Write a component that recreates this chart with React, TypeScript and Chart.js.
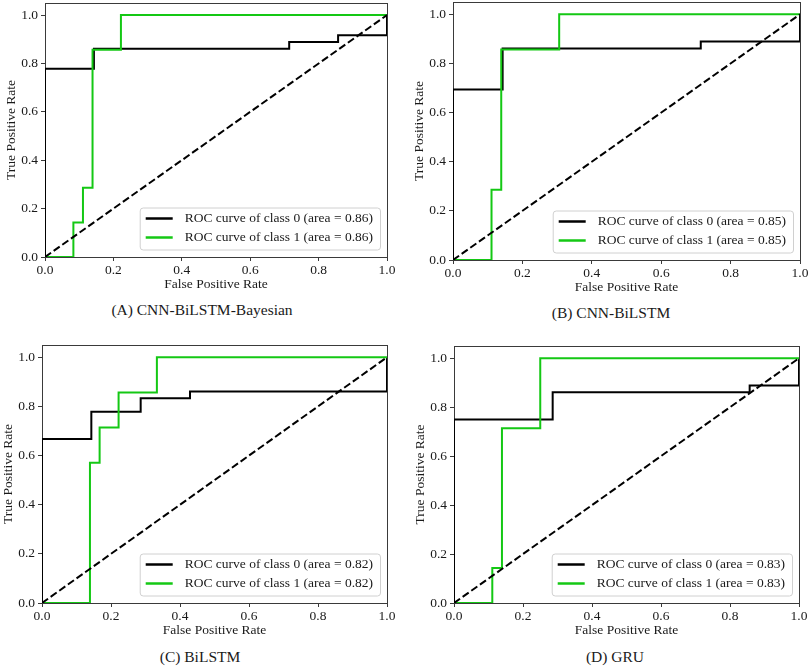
import { useEffect, useRef } from "react";
import { Chart, registerables } from "chart.js";

Chart.register(...registerables);

const FONT = "'Liberation Serif', 'Times New Roman', serif";
const AXIS_TICKS = [0, 0.2, 0.4, 0.6, 0.8, 1.0];
const CHANCE_FPR = [0, 1];
const CHANCE_TPR = [0, 1];

// (A) CNN-BiLSTM-Bayesian
const A_FPR0 = [0, 0, 0.143, 0.143, 0.714, 0.714, 0.857, 0.857, 1, 1];
const A_TPR0 = [0, 0.778, 0.778, 0.861, 0.861, 0.889, 0.889, 0.917, 0.917, 1];
const A_FPR1 = [0, 0.083, 0.083, 0.111, 0.111, 0.139, 0.139, 0.222, 0.222, 1];
const A_TPR1 = [0, 0, 0.143, 0.143, 0.286, 0.286, 0.857, 0.857, 1, 1];
const A_AUC = [0.86, 0.86];

// (B) CNN-BiLSTM
const B_FPR0 = [0, 0, 0.143, 0.143, 0.714, 0.714, 1, 1];
const B_TPR0 = [0, 0.694, 0.694, 0.861, 0.861, 0.889, 0.889, 1];
const B_FPR1 = [0, 0.111, 0.111, 0.139, 0.139, 0.306, 0.306, 1];
const B_TPR1 = [0, 0, 0.286, 0.286, 0.857, 0.857, 1, 1];
const B_AUC = [0.85, 0.85];

// (C) BiLSTM
const C_FPR0 = [0, 0, 0.143, 0.143, 0.286, 0.286, 0.429, 0.429, 1, 1];
const C_TPR0 = [0, 0.667, 0.667, 0.778, 0.778, 0.833, 0.833, 0.861, 0.861, 1];
const C_FPR1 = [0, 0.139, 0.139, 0.167, 0.167, 0.222, 0.222, 0.333, 0.333, 1];
const C_TPR1 = [0, 0, 0.571, 0.571, 0.714, 0.714, 0.857, 0.857, 1, 1];
const C_AUC = [0.82, 0.82];

// (D) GRU
const D_FPR0 = [0, 0, 0.286, 0.286, 0.857, 0.857, 1, 1];
const D_TPR0 = [0, 0.75, 0.75, 0.861, 0.861, 0.889, 0.889, 1];
const D_FPR1 = [0, 0.111, 0.111, 0.139, 0.139, 0.25, 0.25, 1];
const D_TPR1 = [0, 0, 0.143, 0.143, 0.714, 0.714, 1, 1];
const D_AUC = [0.83, 0.83];

const CLASS_COLORS = ["#000000", "#14c814"];
const SPINE = "#3a3a3a";
const TEXT = "#1a1a1a";

// plot-area boxes (page px) and caption centres
const PANELS = [
  { caption: "(A) CNN-BiLSTM-Bayesian", fpr: [A_FPR0, A_FPR1], tpr: [A_TPR0, A_TPR1], auc: A_AUC,
    l: 45, r: 387, t: 3, b: 257, cx: 202, cy: 310 },
  { caption: "(B) CNN-BiLSTM", fpr: [B_FPR0, B_FPR1], tpr: [B_TPR0, B_TPR1], auc: B_AUC,
    l: 453, r: 800, t: 2, b: 260, cx: 611, cy: 313 },
  { caption: "(C) BiLSTM", fpr: [C_FPR0, C_FPR1], tpr: [C_TPR0, C_TPR1], auc: C_AUC,
    l: 42, r: 387, t: 345, b: 603, cx: 200, cy: 657 },
  { caption: "(D) GRU", fpr: [D_FPR0, D_FPR1], tpr: [D_TPR0, D_TPR1], auc: D_AUC,
    l: 454, r: 799, t: 346, b: 603, cx: 615, cy: 657 },
];

const Y_AXIS_W = 45;
const X_AXIS_H = 36;
const PAD_TOP = 2;
const PAD_RIGHT = 20;
const FONT_SIZE = 13.5;

// matplotlib-like legend box in the lower right corner
const rocLegend = {
  id: "rocLegend",
  afterDatasetsDraw(chart: any) {
    const { ctx, chartArea } = chart;
    const items = chart.data.datasets
      .filter((d: any) => d.label)
      .sort((a: any, b: any) => (a.label < b.label ? -1 : 1));
    ctx.save();
    ctx.font = `${FONT_SIZE}px ${FONT}`;
    const textW = Math.max(...items.map((d: any) => ctx.measureText(d.label).width));
    const w = 45 + textW + 7;
    const h = 42;
    const x0 = chartArea.right - 7 - w;
    const y0 = chartArea.bottom - 7.5 - h;
    ctx.beginPath();
    ctx.roundRect(x0 + 0.5, y0 + 0.5, w, h, 3);
    ctx.fillStyle = "rgba(255,255,255,0.8)";
    ctx.fill();
    ctx.strokeStyle = "#d0d0d0";
    ctx.lineWidth = 1;
    ctx.stroke();
    items.forEach((d: any, i: number) => {
      const cy = y0 + 11 + i * 19;
      ctx.beginPath();
      ctx.moveTo(x0 + 6, cy);
      ctx.lineTo(x0 + 33, cy);
      ctx.strokeStyle = d.borderColor;
      ctx.lineWidth = 2.5;
      ctx.stroke();
      ctx.fillStyle = TEXT;
      ctx.textAlign = "left";
      ctx.textBaseline = "middle";
      ctx.fillText(d.label, x0 + 45, cy);
    });
    ctx.restore();
  },
};

function RocPanel({ p }: { p: any }) {
  const chartRef = useRef<Chart | null>(null);
  const canvasRef = useRef<HTMLCanvasElement | null>(null);

  useEffect(() => {
    const tickFont = { family: FONT, size: FONT_SIZE, lineHeight: 1.2 };
    const setTicks = (s: any) => {
      s.ticks = AXIS_TICKS.map((v) => ({ value: v }));
    };
    const curves = [1, 0].map((k) => ({
      label: `ROC curve of class ${k} (area = ${p.auc[k].toFixed(2)})`,
      data: p.fpr[k].map((x: number, i: number) => ({ x, y: p.tpr[k][i] })),
      borderColor: CLASS_COLORS[k],
      borderWidth: 2,
      pointRadius: 0,
      tension: 0,
      fill: false,
      xAxisID: "x",
      yAxisID: "y",
    }));
    const chance = {
      data: CHANCE_FPR.map((x, i) => ({ x, y: CHANCE_TPR[i] })),
      borderColor: "#000",
      borderWidth: 2,
      borderDash: [7.4, 3.2],
      pointRadius: 0,
      fill: false,
      xAxisID: "x",
      yAxisID: "y",
    };

    if (chartRef.current) chartRef.current.destroy();
    const ctx = canvasRef.current?.getContext("2d");
    if (ctx) {
      chartRef.current = new Chart(ctx, {
        type: "line",
        data: { datasets: [chance, ...curves] as any },
        options: {
          animation: false,
          responsive: true,
          maintainAspectRatio: false,
          layout: { padding: { top: PAD_TOP, right: PAD_RIGHT, left: 0, bottom: 0 } },
          plugins: { legend: { display: false }, tooltip: { enabled: false } },
          scales: {
            x: {
              type: "linear",
              position: "bottom",
              min: 0,
              max: 1,
              afterBuildTicks: setTicks,
              afterFit: (s: any) => {
                s.height = X_AXIS_H;
                s.paddingLeft = 0;
                s.paddingRight = 0;
              },
              grid: { drawOnChartArea: false, tickLength: 4, tickColor: SPINE },
              border: { display: true, color: SPINE, width: 1 },
              ticks: {
                font: tickFont,
                color: TEXT,
                padding: 1.5,
                maxRotation: 0,
                autoSkip: false,
                callback: (v: any) => Number(v).toFixed(1),
              },
              title: {
                display: true,
                text: "False Positive Rate",
                font: tickFont,
                color: TEXT,
                padding: { top: 0, bottom: 0 },
              },
            },
            y: {
              type: "linear",
              position: "left",
              min: 0,
              max: 1.05,
              afterBuildTicks: setTicks,
              afterFit: (s: any) => {
                s.width = Y_AXIS_W;
                s.paddingTop = 0;
                s.paddingBottom = 0;
              },
              grid: { drawOnChartArea: false, tickLength: 4, tickColor: SPINE },
              border: { display: true, color: SPINE, width: 1 },
              ticks: {
                font: tickFont,
                color: TEXT,
                padding: 3,
                autoSkip: false,
                callback: (v: any) => Number(v).toFixed(1),
              },
              title: {
                display: true,
                text: "True Positive Rate",
                font: tickFont,
                color: TEXT,
                padding: { top: 3, bottom: 0 },
              },
            },
            x2: {
              type: "linear",
              position: "top",
              min: 0,
              max: 1,
              grid: { display: false },
              ticks: { display: false },
              border: { display: true, color: SPINE, width: 1 },
              afterFit: (s: any) => {
                s.height = 0;
              },
            },
            y2: {
              type: "linear",
              position: "right",
              min: 0,
              max: 1.05,
              grid: { display: false },
              ticks: { display: false },
              border: { display: true, color: SPINE, width: 1 },
              afterFit: (s: any) => {
                s.width = 0;
              },
            },
          },
        } as any,
        plugins: [rocLegend],
      });
    }

    return () => {
      if (chartRef.current) {
        chartRef.current.destroy();
        chartRef.current = null;
      }
    };
  }, [p]);

  return (
    <>
      <div
        style={{
          position: "absolute",
          left: p.l - Y_AXIS_W,
          top: p.t - PAD_TOP,
          width: p.r - p.l + Y_AXIS_W + PAD_RIGHT,
          height: p.b - p.t + PAD_TOP + X_AXIS_H,
        }}
      >
        <canvas ref={canvasRef} />
      </div>
      <div
        style={{
          position: "absolute",
          left: p.cx - 150,
          width: 300,
          top: p.cy - 9,
          height: 18,
          lineHeight: "18px",
          textAlign: "center",
          fontFamily: FONT,
          fontSize: 15.5,
          color: TEXT,
          whiteSpace: "nowrap",
        }}
      >
        {p.caption}
      </div>
    </>
  );
}

export default function App() {
  return (
    <div
      style={{
        position: "fixed",
        left: 0,
        top: 0,
        width: 809,
        height: 666,
        overflow: "hidden",
        background: "#fff",
      }}
    >
      {PANELS.map((p) => (
        <RocPanel key={p.caption} p={p} />
      ))}
    </div>
  );
}
